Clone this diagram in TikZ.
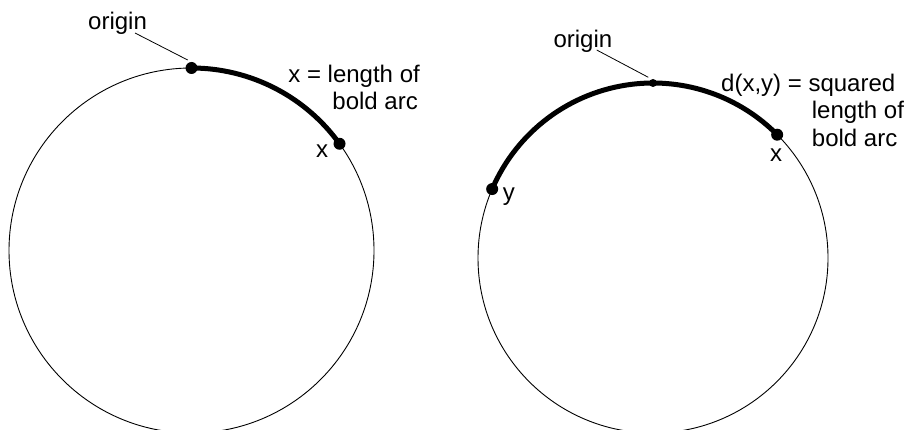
\documentclass[tikz,border=0pt]{standalone}
\usepackage{fontspec}
\setmainfont{Liberation Sans}
\begin{document}
\begin{tikzpicture}[x=1pt,y=1pt,
  thin circle/.style={line width=0.9pt},
  bold arc/.style={line width=5pt},
  dot/.style={fill=black},
  lbl/.style={inner sep=0pt,font=\fontsize{24}{27.5}\selectfont},
  leader/.style={line width=0.8pt}]
\useasboundingbox (0,0) rectangle (909,429);
% centres
\coordinate (lc) at (191.5,178.5);
\coordinate (rc) at (653,171);
% circles
\draw[thin circle] (lc) circle (182.5);
\draw[thin circle] (rc) circle (175);
% points on the circles
\path (lc) ++(90:182.5) coordinate (lo);
\path (lc) ++(35.8:182.5) coordinate (lx);
\path (rc) ++(90:175) coordinate (ro);
\path (rc) ++(44.8:175) coordinate (rx);
\path (rc) ++(156.8:175) coordinate (ry);
% bold arcs
\draw[bold arc] (lo) arc[start angle=90,end angle=35.8,radius=182.5];
\draw[bold arc] (ry) arc[start angle=156.8,end angle=44.8,radius=175];
% dots
\fill[dot] (lo) circle (6);
\fill[dot] (lx) circle (6);
\fill[dot] (ro) circle (4);
\fill[dot] (rx) circle (6);
\fill[dot] (ry) circle (6);
% left labels
\node[lbl,anchor=base west] (lorig) at (88,399) {origin};
\coordinate (lol) at (135,396);
\coordinate (loe) at (187.7,369);
\draw[leader] (lol) -- (loe);
\node[lbl,anchor=base east] (lt1) at (420,346) {x = length of};
\node[lbl,anchor=base east] (lt2) at (418,319) {bold arc};
\node[lbl,anchor=base west] (lxl) at (316,271) {x};
% right labels
\node[lbl,anchor=base west] (rorig) at (553.3,381) {origin};
\coordinate (rol) at (596.7,379);
\coordinate (roe) at (648.3,351.7);
\draw[leader] (rol) -- (roe);
\node[lbl,anchor=base west] (rt1) at (721,337.3) {d(x,y) = squared};
\node[lbl,anchor=base west] (rt2) at (811.7,310) {length of};
\node[lbl,anchor=base west] (rt3) at (811.7,282.3) {bold arc};
\node[lbl,anchor=base west] (rxl) at (770,267.3) {x};
\node[lbl,anchor=base west] (ryl) at (502.7,229) {y};
\end{tikzpicture}
\end{document}
